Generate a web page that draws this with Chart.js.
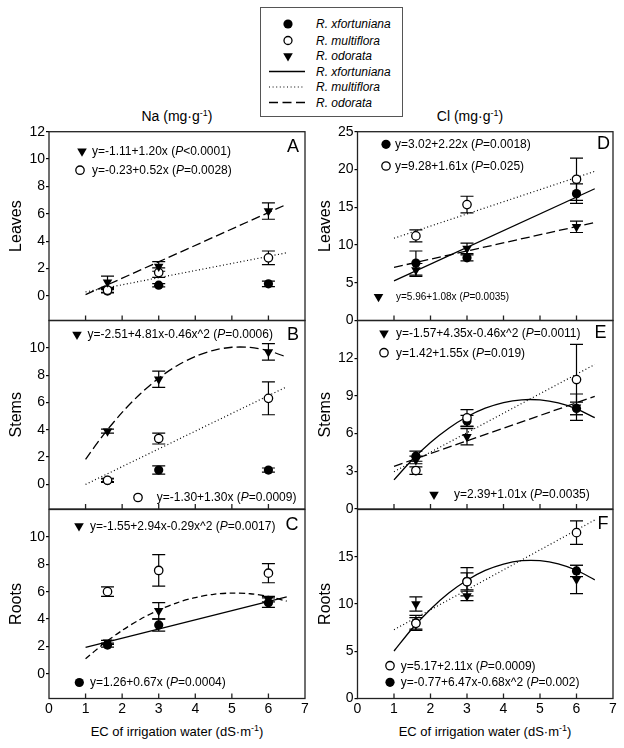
<!DOCTYPE html>
<html>
<head>
<meta charset="utf-8">
<script src="https://cdn.jsdelivr.net/npm/chart.js@4.4.1/dist/chart.umd.min.js"></script>
<style>
  body { margin: 0; width: 624px; height: 748px; background: #fff; position: relative; overflow: hidden;
         font-family: "Liberation Sans", Arial, Helvetica, sans-serif; color: #000; }
  canvas { position: absolute; }
  .lab { position: absolute; white-space: nowrap; transform: translateX(-50%); }
  .col { font-size: 14px; top: 108px; }
  .xt { font-size: 13px; top: 724px; }
  sup { font-size: 9px; vertical-align: 5px; line-height: 0; }
</style>
</head>
<body>
<svg id="legend" width="624" height="125" style="position:absolute;left:0;top:0"></svg>
<div class="lab col" style="left:177px">Na (mg·g<sup>-1</sup>)</div>
<div class="lab col" style="left:470px">Cl (mg·g<sup>-1</sup>)</div>
<div class="lab xt" style="left:177px">EC of irrigation water (dS·m<sup>-1</sup>)</div>
<div class="lab xt" style="left:485px">EC of irrigation water (dS·m<sup>-1</sup>)</div>

<canvas id="chartA" width="312" height="225" style="left:0;top:110px"></canvas>
<canvas id="chartB" width="312" height="220" style="left:0;top:305px"></canvas>
<canvas id="chartC" width="312" height="246" style="left:0;top:494px"></canvas>
<canvas id="chartD" width="320" height="225" style="left:300px;top:110px"></canvas>
<canvas id="chartE" width="320" height="220" style="left:300px;top:305px"></canvas>
<canvas id="chartF" width="320" height="246" style="left:300px;top:494px"></canvas>

<script>
Chart.defaults.font.family = '"Liberation Sans", Arial, Helvetica, sans-serif'
Chart.defaults.color = '#000'

const species = ['R. xfortuniana', 'R. multiflora', 'R. odorata']
const ecLevels = [1.6, 3, 6]
const fitEnds = [1, 6.5]
const fitX = [1, 1.5, 2, 2.5, 3, 3.5, 4, 4.5, 5, 5.5, 6, 6.5]
const xTicks = [0, 1, 2, 3, 4, 5, 6, 7]

// Na, leaves (A)
const naLeafFort = [0.35, 0.78, 0.88]
const naLeafFortErr = [0.1, 0.12, 0.2]
const naLeafMult = [0.42, 1.7, 2.78]
const naLeafMultErr = [0.2, 0.35, 0.5]
const naLeafOdor = [1.0, 2.15, 6.2]
const naLeafOdorErr = [0.45, 0.35, 0.6]
const naLeafOdorFit = [0.09, 6.69]
const naLeafMultFit = [0.29, 3.15]
const naLeafTicks = [0, 2, 4, 6, 8, 10, 12]

// Na, stems (B)
const naStemFort = [0.3, 1.05, 1.05]
const naStemFortErr = [0.1, 0.3, 0.15]
const naStemMult = [0.3, 3.36, 6.3]
const naStemMultErr = [0.15, 0.4, 1.2]
const naStemOdor = [3.9, 7.7, 9.7]
const naStemOdorErr = [0.15, 0.6, 0.6]
const naStemOdorFit = [1.84, 3.67, 5.27, 6.64, 7.78, 8.69, 9.37, 9.82, 10.04, 10.03, 9.79, 9.32]
const naStemMultFit = [0, 7.15]
const naStemTicks = [0, 2, 4, 6, 8, 10]

// Na, roots (C)
const naRootFort = [2.1, 3.57, 5.2]
const naRootFortErr = [0.15, 0.45, 0.35]
const naRootMult = [6.0, 7.55, 7.35]
const naRootMultErr = [0.35, 1.15, 0.7]
const naRootOdor = [2.3, 4.6, 5.45]
const naRootOdorErr = [0.15, 0.6, 0.2]
const naRootFortFit = [1.93, 5.62]
const naRootOdorFit = [1.1, 2.21, 3.17, 3.99, 4.66, 5.19, 5.57, 5.81, 5.9, 5.85, 5.65, 5.31]
const naRootTicks = [0, 2, 4, 6, 8, 10]

// Cl, leaves (D)
const clLeafFort = [7.6, 8.3, 16.8]
const clLeafFortErr = [1.6, 0.4, 1.3]
const clLeafMult = [11.2, 15.35, 18.7]
const clLeafMultErr = [0.8, 1.1, 2.8]
const clLeafOdor = [6.7, 9.55, 12.4]
const clLeafOdorErr = [0.85, 0.7, 0.75]
const clLeafFortFit = [5.24, 17.45]
const clLeafMultFit = [10.89, 19.75]
const clLeafOdorFit = [7.04, 12.98]
const clLeafTicks = [0, 5, 10, 15, 20, 25]

// Cl, stems (E)
const clStemFort = [4.2, 7.0, 8.0]
const clStemFortErr = [0.4, 0.45, 0.5]
const clStemMult = [3.06, 7.25, 10.3]
const clStemMultErr = [0.3, 0.65, 2.8]
const clStemOdor = [3.9, 5.75, 8.1]
const clStemOdorErr = [0.3, 0.65, 1.05]
const clStemFortFit = [2.32, 3.92, 5.29, 6.43, 7.34, 8.02, 8.47, 8.69, 8.68, 8.44, 7.97, 7.27]
const clStemMultFit = [2.97, 11.5]
const clStemOdorFit = [3.4, 8.96]
const clStemTicks = [0, 3, 6, 9, 12]

// Cl, roots (F)
const clRootFort = [8.0, 12.4, 13.5]
const clRootFortErr = [0.8, 0.9, 0.6]
const clRootMult = [7.95, 12.35, 17.55]
const clRootMultErr = [0.6, 1.5, 1.25]
const clRootOdor = [10.0, 10.85, 12.6]
const clRootOdorErr = [0.75, 0.5, 1.5]
const clRootFortFit = [5.02, 7.41, 9.45, 11.16, 12.52, 13.55, 14.23, 14.58, 14.58, 14.25, 13.57, 12.56]
const clRootMultFit = [7.28, 18.89]
const clRootTicks = [0, 5, 10, 15]

const FONT = '"Liberation Sans", Arial, Helvetica, sans-serif'
const DASHED = [9, 4]
const DOTTED = [1, 2.5]

xy = (xs, ys) => xs.map((x, i) => ({x: x, y: ys[i]}))

drawMark = (ctx, kind, x, y) => {
    ctx.save()
    ctx.beginPath()
    if (kind == 'tri') {
        ctx.moveTo(x - 4.8, y - 2.75)
        ctx.lineTo(x + 4.8, y - 2.75)
        ctx.lineTo(x, y + 5.5)
        ctx.closePath()
        ctx.fillStyle = '#000'
        ctx.fill()
    } else if (kind == 'open') {
        ctx.arc(x, y, 4.2, 0, Math.PI * 2)
        ctx.fillStyle = '#fff'
        ctx.fill()
        ctx.lineWidth = 1.3
        ctx.strokeStyle = '#000'
        ctx.stroke()
    } else {
        ctx.arc(x, y, 4.6, 0, Math.PI * 2)
        ctx.fillStyle = '#000'
        ctx.fill()
    }
    ctx.restore()
}

// error bars, drawn under the markers
const errorBars = {
    id: 'errorBars',
    beforeDatasetsDraw(chart) {
        const {ctx, scales: {x, y}} = chart
        ctx.save()
        ctx.strokeStyle = '#000'
        ctx.lineWidth = 1.2
        chart.data.datasets.forEach(ds => {
            if (!ds.err) return
            ds.data.forEach((p, i) => {
                const px = x.getPixelForValue(p.x)
                const top = y.getPixelForValue(p.y + ds.err[i])
                const bot = y.getPixelForValue(p.y - ds.err[i])
                ctx.beginPath()
                ctx.moveTo(px, top); ctx.lineTo(px, bot)
                ctx.moveTo(px - 6.5, top); ctx.lineTo(px + 6.5, top)
                ctx.moveTo(px - 6.5, bot); ctx.lineTo(px + 6.5, bot)
                ctx.stroke()
            })
        })
        ctx.restore()
    }
}

// frame, inner x ticks, panel letter and the regression notes
const frame = {
    id: 'frame',
    afterDraw(chart, args, opts) {
        const {ctx, chartArea: a, scales: {x}} = chart
        ctx.save()
        ctx.strokeStyle = '#222'
        ctx.lineWidth = 1.3
        ctx.strokeRect(a.left, a.top, a.right - a.left, a.bottom - a.top)
        ctx.beginPath()
        for (let v = 1; v <= 6; v++) {
            const px = x.getPixelForValue(v)
            ctx.moveTo(px, a.bottom)
            ctx.lineTo(px, a.bottom - 5)
        }
        ctx.stroke()
        ctx.fillStyle = '#000'
        ctx.textBaseline = 'middle'
        ctx.textAlign = 'center'
        ctx.font = '18px ' + FONT
        ctx.fillText(opts.letter[0], a.left + opts.letter[1], a.top + opts.letter[2])
        ctx.textAlign = 'left'
        opts.notes.forEach(n => {
            drawMark(ctx, n.m, a.left + n.mx, a.top + n.my)
            let tx = a.left + n.tx
            n.text.forEach((part, i) => {
                ctx.font = (i == 1 ? 'italic ' : '') + (n.size || 12) + 'px ' + FONT
                ctx.fillText(part, tx, a.top + n.my + 0.5)
                tx += ctx.measureText(part).width
            })
        })
        ctx.restore()
    }
}

marks = (fort, fortErr, mult, multErr, odor, odorErr) => [
    {data: xy(ecLevels, odor), err: odorErr, pointStyle: 'triangle', rotation: 180, pointRadius: 5.5,
     backgroundColor: '#000', borderColor: '#000', borderWidth: 0, order: 1},
    {data: xy(ecLevels, mult), err: multErr, pointStyle: 'circle', pointRadius: 4.2,
     backgroundColor: '#fff', borderColor: '#000', borderWidth: 1.3, order: 2},
    {data: xy(ecLevels, fort), err: fortErr, pointStyle: 'circle', pointRadius: 4.6,
     backgroundColor: '#000', borderColor: '#000', borderWidth: 0, order: 3}
]

fitLine = (xs, ys, dash) => ({
    data: xy(xs, ys), showLine: true, pointRadius: 0, borderColor: '#000', borderWidth: dash == DOTTED ? 1.2 : 1.3,
    borderDash: dash, tension: xs.length > 2 ? 0.3 : 0, fill: false, order: 5
})

makePanel = (id, p) => {
    new Chart(document.getElementById(id), {
        type: 'scatter',
        data: { datasets: marks(...p.marks).concat(p.fits) },
        options: {
            responsive: false,
            animation: false,
            events: [],
            layout: { padding: p.pad },
            plugins: { legend: {display: false}, tooltip: {enabled: false}, frame: {letter: p.letter, notes: p.notes} },
            scales: {
                x: {
                    type: 'linear', min: 0, max: 7, display: p.bottom,
                    afterBuildTicks: s => { s.ticks = xTicks.map(v => ({value: v})) },
                    afterFit: s => { s.height = p.bottom ? 25 : 0 },
                    grid: {display: false, drawTicks: false},
                    border: {display: false},
                    ticks: {color: '#000', padding: 2, font: {size: 14}}
                },
                y: {
                    min: p.min, max: p.max,
                    afterBuildTicks: s => { s.ticks = p.ticks.map(v => ({value: v})) },
                    afterFit: s => { s.width = p.axisW },
                    grid: {drawOnChartArea: false, tickLength: 3, color: '#000', lineWidth: 1.2},
                    border: {display: false},
                    ticks: {color: '#000', padding: 1, font: {size: 14}},
                    title: {display: true, text: p.title, color: '#000', font: {size: 16}, padding: {top: p.titlePad, bottom: 0}}
                }
            }
        },
        plugins: [errorBars, frame]
    })
}

const leftPad = (t, b) => ({top: t, right: 7, bottom: b, left: 0})

makePanel('chartA', {
    marks: [naLeafFort, naLeafFortErr, naLeafMult, naLeafMultErr, naLeafOdor, naLeafOdorErr],
    fits: [fitLine(fitEnds, naLeafOdorFit, DASHED), fitLine(fitEnds, naLeafMultFit, DOTTED)],
    min: -1.8, max: 12, ticks: naLeafTicks, title: 'Leaves', axisW: 49, titlePad: 6.5,
    pad: leftPad(21.7, 14.5), bottom: false, letter: ['A', 244, 15.5],
    notes: [
        {m: 'tri', mx: 33, my: 19.5, tx: 43, text: ['y=-1.11+1.20x (', 'P', '<0.0001)']},
        {m: 'open', mx: 31, my: 38.5, tx: 43, text: ['y=-0.23+0.52x (', 'P', '=0.0028)']}
    ]
})

makePanel('chartB', {
    marks: [naStemFort, naStemFortErr, naStemMult, naStemMultErr, naStemOdor, naStemOdorErr],
    fits: [fitLine(fitX, naStemOdorFit, DASHED), fitLine(fitEnds, naStemMultFit, DOTTED)],
    min: -1.8, max: 12, ticks: naStemTicks, title: 'Stems', axisW: 49, titlePad: 6.5,
    pad: leftPad(15.5, 16), bottom: false, letter: ['B', 244, 14.5],
    notes: [
        {m: 'tri', mx: 28, my: 14, tx: 38.5, text: ['y=-2.51+4.81x-0.46x^2 (', 'P', '=0.0006)']},
        {m: 'open', mx: 89, my: 177, tx: 107.7, text: ['y=-1.30+1.30x (', 'P', '=0.0009)']}
    ]
})

makePanel('chartC', {
    marks: [naRootFort, naRootFortErr, naRootMult, naRootMultErr, naRootOdor, naRootOdorErr],
    fits: [fitLine(fitEnds, naRootFortFit, []), fitLine(fitX, naRootOdorFit, [6, 3.5])],
    min: -1.8, max: 12, ticks: naRootTicks, title: 'Roots', axisW: 49, titlePad: 6.5,
    pad: leftPad(15.5, 16.5), bottom: true, letter: ['C', 243, 15.5],
    notes: [
        {m: 'tri', mx: 30, my: 16.5, tx: 41, text: ['y=-1.55+2.94x-0.29x^2 (', 'P', '=0.0017)']},
        {m: 'fill', mx: 30.3, my: 173, tx: 41, text: ['y=1.26+0.67x (', 'P', '=0.0004)']}
    ]
})

const rightPad = (t, b) => ({top: t, right: 7, bottom: b, left: 0})

makePanel('chartD', {
    marks: [clLeafFort, clLeafFortErr, clLeafMult, clLeafMultErr, clLeafOdor, clLeafOdorErr],
    fits: [fitLine(fitEnds, clLeafFortFit, []), fitLine(fitEnds, clLeafMultFit, DOTTED), fitLine(fitEnds, clLeafOdorFit, DASHED)],
    min: 0, max: 25, ticks: clLeafTicks, title: 'Leaves', axisW: 57.5, titlePad: 15.5,
    pad: rightPad(21.7, 14.5), bottom: false, letter: ['D', 246, 12],
    notes: [
        {m: 'fill', mx: 28.5, my: 12.6, tx: 37.5, text: ['y=3.02+2.22x (', 'P', '=0.0018)']},
        {m: 'open', mx: 28.5, my: 34.3, tx: 37.5, text: ['y=9.28+1.61x (', 'P', '=0.025)']},
        {m: 'tri', mx: 21, my: 165, tx: 38.5, size: 10, text: ['y=5.96+1.08x (', 'P', '=0.0035)']}
    ]
})

makePanel('chartE', {
    marks: [clStemFort, clStemFortErr, clStemMult, clStemMultErr, clStemOdor, clStemOdorErr],
    fits: [fitLine(fitX, clStemFortFit, []), fitLine(fitEnds, clStemMultFit, DOTTED), fitLine(fitEnds, clStemOdorFit, DASHED)],
    min: 0, max: 15, ticks: clStemTicks, title: 'Stems', axisW: 57.5, titlePad: 15.5,
    pad: rightPad(15.5, 16), bottom: false, letter: ['E', 243, 13],
    notes: [
        {m: 'tri', mx: 26.5, my: 12.8, tx: 38.5, text: ['y=-1.57+4.35x-0.46x^2 (', 'P', '=0.0011)']},
        {m: 'open', mx: 26.5, my: 32.2, tx: 38.5, text: ['y=1.42+1.55x (', 'P', '=0.019)']},
        {m: 'tri', mx: 76.5, my: 174, tx: 96.5, text: ['y=2.39+1.01x (', 'P', '=0.0035)']}
    ]
})

makePanel('chartF', {
    marks: [clRootFort, clRootFortErr, clRootMult, clRootMultErr, clRootOdor, clRootOdorErr],
    fits: [fitLine(fitX, clRootFortFit, []), fitLine(fitEnds, clRootMultFit, DOTTED)],
    min: 0, max: 20, ticks: clRootTicks, title: 'Roots', axisW: 57.5, titlePad: 15.5,
    pad: rightPad(15.5, 16.5), bottom: true, letter: ['F', 245.5, 14.5],
    notes: [
        {m: 'open', mx: 32.5, my: 156.2, tx: 43.2, text: ['y=5.17+2.11x (', 'P', '=0.0009)']},
        {m: 'fill', mx: 32.5, my: 172.8, tx: 43.2, text: ['y=-0.77+6.47x-0.68x^2 (', 'P', '=0.002)']}
    ]
})

buildLegend = () => {
    const rows = [24, 40.5, 56, 71.5, 87, 102.5]
    let html = '<rect x="260.5" y="7.5" width="142" height="109" fill="none" stroke="#555" stroke-width="1"/>'
    html += '<circle cx="288" cy="24" r="4.6" fill="#000"/>'
    html += '<circle cx="288" cy="40.5" r="4" fill="#fff" stroke="#000" stroke-width="1.3"/>'
    html += '<path d="M283.2 53.25 L292.8 53.25 L288 61.5 Z" fill="#000"/>'
    html += '<line x1="269" x2="305" y1="71.5" y2="71.5" stroke="#000" stroke-width="1.3"/>'
    html += '<line x1="269" x2="305" y1="87" y2="87" stroke="#000" stroke-width="1.2" stroke-dasharray="1 2.6"/>'
    html += '<line x1="269" x2="305" y1="102.5" y2="102.5" stroke="#000" stroke-width="1.3" stroke-dasharray="9 4.5"/>'
    rows.forEach((y, i) => {
        html += '<text x="316" y="' + (y + 4.3) + '" font-family=\'' + FONT + '\' font-style="italic" font-size="12">' + species[i % 3] + '</text>'
    })
    document.getElementById('legend').innerHTML = html
}

buildLegend()
</script>
</body>
</html>
